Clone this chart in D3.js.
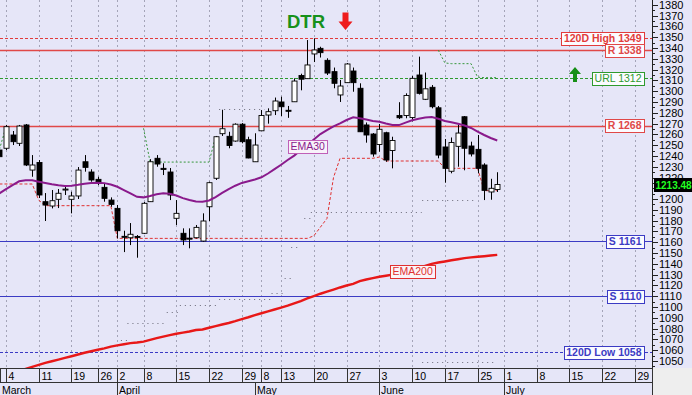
<!DOCTYPE html>
<html>
<head>
<meta charset="utf-8">
<style>
  body { margin: 0; background: #fff; }
  svg { display: block; font-family: Arial, "Liberation Sans", sans-serif; }
</style>
<script src="https://cdn.jsdelivr.net/npm/d3@7"></script>
</head>
<body>
<div id="chart"></div>
<script>
// daily bars, index 0 = first (partly cut) bar at the left edge
var opens = [1245.5,1247.1,1259.4,1251.7,1268.7,1226.9,1233.9,1197.6,1193.6,1199.8,
  1208.6,1199.8,1202.9,1234.6,1225.1,1218.3,1210.9,1199.1,1191.4,1165.5,
  1164.2,1165.4,1168.3,1197.6,1237.8,1228.5,1225.1,1182.2,1168.3,1163.8,
  1164.2,1161.1,1192.9,1219.3,1260.6,1258.2,1253.8,1269.4,1255.0,1234.6,
  1263.3,1277.9,1281.9,1290.0,1282.3,1290.2,1314.5,1311.6,1334.5,1339.7,
  1328.6,1318.1,1296.5,1307.9,1318.7,1302.7,1268.7,1260.3,1250.6,1261.5,
  1245.0,1277.5,1277.5,1275.6,1315.0,1292.5,1303.6,1284.6,1248.3,1225.8,
  1248.9,1276.3,1249.2,1246.1,1231.6,1206.6,1208.9];
var highs = [1252.0,1268.7,1263.1,1268.7,1269.6,1240.8,1236.2,1205.6,1208.4,1209.3,
  1213.0,1206.8,1229.7,1240.8,1227.6,1220.7,1214.0,1201.6,1194.5,1170.7,
  1177.8,1166.7,1197.3,1237.0,1240.8,1233.2,1228.8,1199.1,1172.9,1172.9,
  1176.0,1186.8,1216.1,1258.5,1282.8,1262.4,1270.2,1270.5,1257.8,1261.0,
  1282.5,1284.1,1294.1,1294.9,1286.3,1311.9,1316.2,1347.4,1349.0,1341.2,
  1330.5,1321.9,1310.4,1326.1,1321.9,1307.3,1271.0,1261.2,1269.6,1262.4,
  1257.8,1289.8,1298.0,1314.1,1332.0,1317.3,1305.7,1286.3,1255.7,1257.1,
  1268.7,1277.0,1253.2,1259.4,1233.2,1218.8,1224.9];
var lows = [1236.2,1245.5,1250.1,1249.2,1230.6,1220.7,1201.0,1179.7,1191.4,1191.7,
  1203.8,1186.8,1200.1,1225.4,1216.1,1213.0,1197.6,1192.9,1163.6,1150.9,
  1157.4,1145.7,1167.6,1197.3,1230.0,1222.3,1199.1,1176.0,1157.4,1154.4,
  1163.6,1160.5,1179.7,1217.7,1258.5,1247.1,1253.2,1251.7,1237.8,1234.6,
  1263.3,1269.9,1277.9,1277.0,1275.3,1290.2,1300.8,1311.3,1327.0,1331.2,
  1315.0,1302.7,1290.0,1307.6,1299.5,1262.2,1252.3,1239.3,1243.9,1234.6,
  1228.5,1274.2,1274.9,1272.0,1296.9,1291.8,1284.1,1237.8,1215.2,1223.9,
  1230.0,1226.7,1239.5,1223.9,1199.1,1199.4,1206.6];
var closes = [1239.3,1267.1,1253.2,1267.7,1231.6,1231.6,1203.8,1194.5,1198.5,1205.4,
  1209.3,1202.9,1226.9,1229.4,1217.7,1215.2,1200.7,1195.1,1170.7,1165.0,
  1167.4,1165.1,1196.1,1234.6,1232.5,1227.5,1203.8,1186.8,1162.1,1163.5,
  1173.8,1179.7,1215.2,1257.8,1265.2,1249.7,1269.4,1253.2,1238.1,1250.1,
  1277.5,1281.0,1290.9,1285.6,1281.4,1309.4,1311.1,1324.3,1338.2,1335.7,
  1316.8,1307.3,1304.8,1325.2,1307.9,1262.4,1259.4,1241.8,1264.7,1236.2,
  1254.3,1275.4,1296.0,1311.9,1298.0,1302.2,1285.6,1240.8,1228.5,1252.4,
  1261.2,1247.1,1241.8,1228.5,1208.1,1210.0,1213.48];

var ema30 = [1205.3,1209.3,1213.0,1216.5,1217.4,1217.4,1216.1,1214.9,1213.7,1212.8,
  1212.1,1212.4,1213.2,1214.2,1214.9,1215.2,1214.8,1213.5,1211.4,1208.4,
  1205.2,1202.1,1201.6,1202.8,1204.5,1205.3,1205.0,1203.3,1200.9,1199.1,
  1197.7,1197.6,1198.7,1201.9,1205.7,1209.3,1212.4,1215.0,1216.6,1218.2,
  1220.2,1223.7,1227.7,1231.8,1236.2,1240.3,1245.5,1249.9,1255.2,1260.3,
  1264.0,1267.3,1270.2,1273.3,1275.8,1274.9,1273.7,1272.4,1271.7,1270.0,
  1268.6,1268.6,1270.9,1273.0,1274.5,1275.7,1276.1,1274.4,1272.4,1271.2,
  1269.8,1268.2,1265.9,1262.6,1259.4,1256.6,1254.3];
var ema200 = [1035.6,1037.2,1038.9,1040.7,1042.7,1044.6,1046.4,1048.2,1049.7,1051.3,
  1052.9,1054.4,1056.0,1057.6,1059.0,1060.4,1061.7,1063.3,1064.5,1065.5,
  1066.5,1067.1,1067.9,1069.6,1071.1,1072.6,1074.0,1075.2,1076.2,1077.3,
  1078.7,1079.2,1080.8,1082.3,1083.8,1085.2,1086.9,1088.8,1090.5,1092.4,
  1094.2,1096.0,1097.7,1099.4,1101.2,1103.3,1105.5,1107.9,1110.1,1112.3,
  1114.2,1116.1,1118.1,1119.9,1121.4,1124.0,1125.5,1126.8,1128.0,1129.0,
  1130.0,1130.9,1132.0,1133.7,1135.9,1138.0,1140.0,1141.2,1142.2,1143.3,
  1144.3,1145.3,1146.0,1146.6,1147.1,1147.7,1148.3];

// trailing stops (null = not drawn)
var redTrail = [1214.0,1214.0,1214.0,1214.0,1214.0,1214.0,1199.0,1193.9,1193.9,1193.9,
  1193.9,1193.9,1193.9,1193.9,1193.9,1193.9,1193.9,1193.9,1163.6,1163.6,
  1163.6,1163.6,1163.6,1163.6,1163.6,1163.6,1163.6,1163.6,1163.6,1163.6,
  1163.6,1163.6,1163.6,1163.6,1163.6,1163.6,1163.6,1163.6,1163.6,1163.6,
  1163.6,1163.6,1163.6,1163.6,1163.6,1163.6,1163.6,1163.6,1166.0,1174.0,
  1182.0,1220.0,1237.8,1237.8,1237.8,1237.8,1237.8,1237.8,1239.0,1235.3,
  1235.3,1235.3,1235.3,1235.3,1235.3,1235.3,1235.3,1235.3,1228.5,1228.5,
  1228.5,1228.5,1228.5,1228.5,1207.8,1207.8,1207.8];
var greenTrail = [1246.0,1267.0,null,null,null,null,null,null,null,null,
  null,null,null,null,null,null,null,null,null,null,
  null,null,1265.6,1234.3,1234.3,1234.3,1234.3,1234.3,1234.3,1234.3,
  1234.3,1234.3,1234.3,1257.8,null,null,null,null,null,null,
  null,null,null,null,null,null,null,null,null,null,
  null,null,null,null,null,null,null,null,null,null,
  null,null,null,null,null,null,null,1338.0,1326.2,1325.5,
  1325.5,1325.5,1325.5,1313.0,1312.5,1312.5,1312.5];

// dotted runs: [first bar, last bar, value]
var lowerDots = [[19,19,1069.4],[20,25,1085.4],[26,27,1095.6],[28,33,1101.8],[34,41,1107.1],
  [42,43,1112.7],[44,44,1126.6],[45,45,1155.9],[47,47,1182.7],[48,64,1188.3],[65,72,1199.1]];
var upperDots = [[34,40,1283.2]];
var bottomDots = [[65,75,1049.3]];

var levelValues = [1349, 1338, 1312, 1268, 1161, 1110, 1058];
var levelLabels = ["120D High 1349", "R 1338", "URL 1312", "R 1268", "S 1161", "S 1110", "120D Low 1058"];
var levelKinds = ["high", "res", "url", "res", "sup", "sup", "low"];

var tickBars = [1,6,11,15,18,22,27,32,37,40,43,48,53,58,63,68,73,77,82,87,92,97];
var tickLabels = ["4","11","19","26","2","8","15","22","29","8","13","20","27","3","10","17","25","1","8","15","22","29"];
var monthBars = [0, 18, 39, 58, 77];
var monthLabels = ["March", "April", "May", "June", "July"];
var lastPrice = 1213.48;

var W = 692, H = 395, plotR = 652, plotB = 368;

var levelStyle = {
  high: {color: "#e23b3b", dash: "3,2", width: 1, bold: true},
  res:  {color: "#e04848", dash: null, width: 1.4, bold: true},
  url:  {color: "#2e9a2e", dash: "3,2", width: 1, bold: false},
  sup:  {color: "#3b3bc4", dash: null, width: 1.2, bold: true},
  low:  {color: "#3b3bc4", dash: "3,2", width: 1, bold: true}
};

var x = d3.scaleLinear().domain([0, 99]).range([-0.55, 647.9]);
var y = d3.scaleLinear().domain([1043.2, 1384.5]).range([368.3, 0]);
var px = function(i) { return Math.round(x(i)) + 0.5; };

var svg = d3.select("#chart").append("svg").attr("width", W).attr("height", H);

svg.append("rect").attr("width", W).attr("height", H).attr("fill", "#e6e6f8");
svg.append("rect").attr("x", plotR).attr("y", plotB).attr("width", W - plotR).attr("height", H - plotB)
  .attr("fill", "#eeeeee");

svg.append("clipPath").attr("id", "clip").append("rect").attr("width", plotR).attr("height", plotB);
var plot = svg.append("g").attr("clip-path", "url(#clip)");

// vertical grid on week starts
plot.selectAll(".vg").data(tickBars).enter().append("line")
  .attr("x1", px).attr("x2", px).attr("y1", 0).attr("y2", plotB)
  .attr("stroke", "#a4a4b8").attr("stroke-dasharray", "2,3");

// support / resistance lines
plot.selectAll(".lvl").data(levelValues).enter().append("line")
  .attr("x1", 0).attr("x2", plotR)
  .attr("y1", function(d) { return Math.round(y(d)) + 0.5; })
  .attr("y2", function(d) { return Math.round(y(d)) + 0.5; })
  .attr("stroke", function(d, i) { return levelStyle[levelKinds[i]].color; })
  .attr("stroke-width", function(d, i) { return levelStyle[levelKinds[i]].width; })
  .attr("stroke-dasharray", function(d, i) { return levelStyle[levelKinds[i]].dash; });

// dotted runs
function dotRuns(runs) {
  plot.append("g").selectAll("line").data(runs).enter().append("line")
    .attr("x1", function(d) { return x(d[0]) - 3; })
    .attr("x2", function(d) { return x(d[1]) + 3; })
    .attr("y1", function(d) { return Math.round(y(d[2])) + 0.5; })
    .attr("y2", function(d) { return Math.round(y(d[2])) + 0.5; })
    .attr("stroke", "#6a6a78").attr("stroke-width", 1).attr("stroke-dasharray", "1,4");
}
dotRuns(lowerDots);
dotRuns(upperDots);
dotRuns(bottomDots);

var trailLine = d3.line()
  .defined(function(d) { return d != null; })
  .x(function(d, i) { return x(i); })
  .y(function(d) { return y(d); });

plot.append("path").attr("d", trailLine(redTrail))
  .attr("fill", "none").attr("stroke", "#e03030").attr("stroke-width", 1).attr("stroke-dasharray", "3,2");
plot.append("path").attr("d", trailLine(greenTrail))
  .attr("fill", "none").attr("stroke", "#34963a").attr("stroke-width", 1).attr("stroke-dasharray", "2,2");

// candles
var bars = plot.append("g");
bars.selectAll(".wick").data(opens).enter().append("line")
  .attr("x1", function(d, i) { return px(i); })
  .attr("x2", function(d, i) { return px(i); })
  .attr("y1", function(d, i) { return y(highs[i]); })
  .attr("y2", function(d, i) { return y(lows[i]); })
  .attr("stroke", "#000").attr("stroke-width", 1);
bars.selectAll(".body").data(opens).enter().append("rect")
  .attr("x", function(d, i) { return px(i) - 2.5; })
  .attr("width", 5)
  .attr("y", function(d, i) { return y(Math.max(d, closes[i])); })
  .attr("height", function(d, i) { return Math.max(1, Math.abs(y(d) - y(closes[i]))); })
  .attr("fill", function(d, i) { return closes[i] < d ? "#000" : "#fff"; })
  .attr("stroke", "#000").attr("stroke-width", 0.9);

// moving averages
var maLine = d3.line().x(function(d, i) { return x(i); }).y(function(d) { return y(d); });
plot.append("path").attr("d", maLine(ema200))
  .attr("fill", "none").attr("stroke", "#e81818").attr("stroke-width", 2.4);
plot.append("path").attr("d", maLine(ema30))
  .attr("fill", "none").attr("stroke", "#8a1a8c").attr("stroke-width", 2);

// boxed text helper
function boxLabel(txt, xr, yc, color, bold, fill, size, anchorRight) {
  var g = svg.append("g");
  var r = g.append("rect");
  var t = g.append("text").text(txt)
    .attr("font-size", size).attr("font-weight", bold ? "bold" : "normal")
    .attr("fill", color).attr("y", yc + size * 0.36);
  var w = t.node().getComputedTextLength() + 5;
  var x0 = anchorRight ? xr - w : xr;
  t.attr("x", x0 + 2.5);
  r.attr("x", Math.round(x0) + 0.5).attr("y", Math.round(yc - 6.5) + 0.5)
    .attr("width", Math.round(w)).attr("height", 13)
    .attr("fill", fill).attr("stroke", color).attr("stroke-width", 1);
  return r;
}

levelValues.forEach(function(v, i) {
  var st = levelStyle[levelKinds[i]];
  boxLabel(levelLabels[i], 644, y(v), st.color, st.bold, "#fbfbff", 10.5, true);
});

boxLabel("EMA30", 288, 146, "#8a1a8c", false, "#f8f2fa", 10.5, false).attr("stroke", "#c060b8");
boxLabel("EMA200", 390, 271, "#e03030", false, "#fbf3f6", 10.5, false);

// DTR signal
svg.append("text").text("DTR").attr("x", 287).attr("y", 28)
  .attr("font-size", 18.5).attr("font-weight", "bold").attr("fill", "#17911b");
svg.append("path")
  .attr("d", "M342.5,12.5 L348.5,12.5 L348.5,21.5 L352.5,21.5 L345.5,30 L338.5,21.5 L342.5,21.5 Z")
  .attr("fill", "#ee1c1c");
svg.append("path")
  .attr("d", "M575,67 L581,74 L577,74 L577,82 L573,82 L573,74 L569,74 Z")
  .attr("fill", "#168f16");

// price axis
var yAxis = svg.append("g");
yAxis.append("line").attr("x1", plotR + 0.5).attr("x2", plotR + 0.5).attr("y1", 0).attr("y2", plotB)
  .attr("stroke", "#222");
var minor = d3.range(1045, 1385, 5);
yAxis.selectAll(".tk").data(minor).enter().append("line")
  .attr("x1", plotR).attr("x2", function(d) { return d % 10 === 0 ? plotR + 6 : plotR + 3; })
  .attr("y1", function(d) { return Math.round(y(d)) + 0.5; })
  .attr("y2", function(d) { return Math.round(y(d)) + 0.5; })
  .attr("stroke", "#222");
// the label right under the last-price tag is hidden by it
var yLabels = y.ticks(35).filter(function(d) {
  return d >= 1050 && d <= 1380 && Math.abs(y(d) - y(lastPrice)) > 4;
});
yAxis.selectAll(".tl").data(yLabels)
  .enter().append("text")
  .attr("x", 659).attr("y", function(d) { return y(d) + 4; })
  .attr("font-size", 11).attr("fill", "#000").text(function(d) { return d; });

// last price tag
svg.append("rect").attr("x", 654).attr("y", Math.round(y(lastPrice) - 7)).attr("width", 38).attr("height", 14)
  .attr("fill", "#000");
svg.append("text").attr("x", 655.5).attr("y", y(lastPrice) + 4).attr("font-size", 10)
  .attr("font-weight", "bold").attr("fill", "#22ff22").text(lastPrice.toFixed(2));

// time axis
var xa = svg.append("g").attr("stroke", "#333");
xa.append("line").attr("x1", 0).attr("x2", plotR).attr("y1", plotB + 0.5).attr("y2", plotB + 0.5);
xa.append("line").attr("x1", 0).attr("x2", plotR).attr("y1", 382.5).attr("y2", 382.5);
xa.append("line").attr("x1", plotR + 0.5).attr("x2", plotR + 0.5).attr("y1", plotB).attr("y2", H);
xa.append("line").attr("x1", 0.5).attr("x2", 0.5).attr("y1", plotB).attr("y2", 382.5);
xa.selectAll(".dt").data(tickBars).enter().append("line")
  .attr("x1", px).attr("x2", px).attr("y1", plotB).attr("y2", 382.5);
xa.selectAll(".mt").data(monthBars.slice(1)).enter().append("line")
  .attr("x1", px).attr("x2", px).attr("y1", 382.5).attr("y2", H);

svg.selectAll(".dl").data(tickBars).enter().append("text")
  .attr("x", function(d) { return px(d) + 2; }).attr("y", 380)
  .attr("font-size", 10.5).attr("fill", "#000")
  .text(function(d, i) { return tickLabels[i]; });
svg.selectAll(".ml").data(monthBars).enter().append("text")
  .attr("x", function(d, i) { return i === 0 ? 2 : px(d) + 1.5; }).attr("y", 393.5)
  .attr("font-size", 10.5).attr("fill", "#000")
  .text(function(d, i) { return monthLabels[i]; });
</script>
</body>
</html>
